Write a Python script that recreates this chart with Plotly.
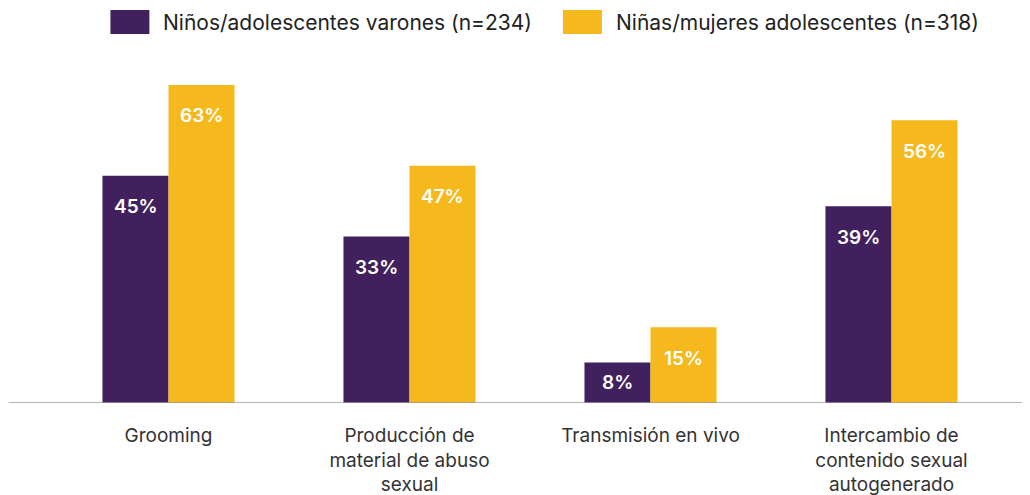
import plotly.graph_objects as go

categories = ["Grooming", "Producción de<br>material de abuso<br>sexual", "Transmisión en vivo",
              "Intercambio de<br>contenido sexual<br>autogenerado"]
series_names = ["Niños/adolescentes varones (n=234)", "Niñas/mujeres adolescentes (n=318)"]
boys = [45, 33, 8, 39]
girls = [63, 47, 15, 56]
colors = ["#40215E", "#F6B91D"]

OFF = 8  # page body offset
W, H = 1030 - OFF, 495 - OFF
# target image pixel coords of plot area
PL, PR, PT, PB = 47.5, 1012.5, 60, 403
ml, mr = PL - OFF, W - (PR - OFF)
mt, mb = PT - OFF, H - (PB - OFF)
FONT = "Inter"
PX_PER_UNIT = 5.048

fig = go.Figure()
for name, vals, col in zip(series_names, [boys, girls], colors):
    fig.add_trace(go.Bar(x=categories, y=vals, name=name, marker=dict(color=col, line=dict(width=0)),
                         showlegend=False))

annotations = []
for i, (b, g) in enumerate(zip(boys, girls)):
    for vals, off in ((b, -0.5), (g, 0.5)):
        shift = min(31, vals * PX_PER_UNIT / 2)
        annotations.append(dict(x=i, xref="x", y=vals, yref="y", text=f"{vals}%",
                                showarrow=False, yshift=-shift, xshift=off * 66,
                                font=dict(family=FONT, size=19, color="white", weight=600)))

pw = PR - PL
ph = PB - PT
def px_to_paper_x(px):
    return (px - PL) / pw
def py_to_paper_y(py):
    return (PB - py) / ph

shapes = []
legend_items = [(110, 163, series_names[0], colors[0]), (563, 616, series_names[1], colors[1])]
for x0, tx, name, col in legend_items:
    shapes.append(dict(type="rect", xref="paper", yref="paper",
                       x0=px_to_paper_x(x0), x1=px_to_paper_x(x0 + 39),
                       y0=py_to_paper_y(34), y1=py_to_paper_y(10),
                       fillcolor=col, line=dict(width=0)))
    annotations.append(dict(xref="paper", yref="paper", x=px_to_paper_x(tx), y=py_to_paper_y(22),
                            xanchor="left", yanchor="middle", text=name, showarrow=False, xshift=-2,
                            font=dict(family=FONT, size=21, color="#222")))

# baseline
shapes.append(dict(type="line", xref="paper", yref="y", x0=px_to_paper_x(8), x1=px_to_paper_x(1032),
                   y0=0, y1=0, line=dict(color="#9A9A9A", width=1.5)))

fig.update_layout(
    width=W, height=H,
    margin=dict(l=ml, r=mr, t=mt, b=mb, autoexpand=False),
    plot_bgcolor="white", paper_bgcolor="white",
    barmode="group", bargap=0.452, bargroupgap=0,
    shapes=shapes, annotations=annotations,
    font=dict(family=FONT),
)
fig.update_xaxes(showline=False, showgrid=False, ticks="", ticklabelstandoff=19,
                 tickfont=dict(family=FONT, size=19, color="#333"))
fig.update_yaxes(range=[0, ph / PX_PER_UNIT], visible=False, showgrid=False, zeroline=False)

fig.write_html("out.html")
